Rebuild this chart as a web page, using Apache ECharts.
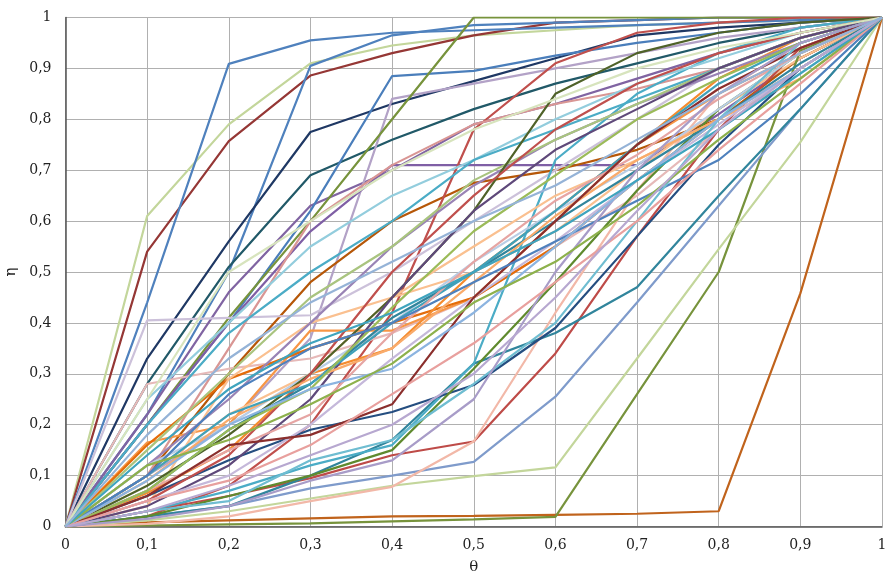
<!DOCTYPE html>
<html><head><meta charset="utf-8">
<script src="https://cdn.jsdelivr.net/npm/echarts@6/dist/echarts.min.js"></script>
<style>html,body{margin:0;padding:0;background:#fff}#c{width:885px;height:573px}</style>
</head><body><div id="c"></div>
<script>
// θ positions
const theta = [0, 0.1, 0.2, 0.3, 0.4, 0.5, 0.6, 0.7, 0.8, 0.9, 1];
const xTicks = ["0","0,1","0,2","0,3","0,4","0,5","0,6","0,7","0,8","0,9","1"];
const yTicks = ["0","0,1","0,2","0,3","0,4","0,5","0,6","0,7","0,8","0,9","1"];

// η values of each curve at the θ positions
const s01 = [0,.61,.79,.91,.945,.965,.975,.985,.99,.995,1];
const s02 = [0,.54,.757,.886,.93,.965,.99,.995,1,1,1];
const s03 = [0,.44,.909,.955,.97,.975,.98,.985,.99,.995,1];
const s04 = [0,.22,.50,.905,.965,.985,.99,.995,1,1,1];
const s05 = [0,.33,.56,.775,.83,.875,.92,.965,.98,.99,1];
const s06 = [0,.28,.51,.69,.76,.82,.87,.91,.95,.98,1];
const s07 = [0,.22,.46,.63,.70,.79,.83,.88,.93,.97,1];
const s08 = [0,.20,.40,.62,.885,.895,.925,.95,.97,.99,1];
const s09 = [0,.10,.20,.37,.84,.87,.90,.93,.96,.98,1];
const s10 = [0,.20,.41,.60,.80,1,1,1,1,1,1];
const s11 = [0,.20,.40,.58,.71,.71,.71,.71,.81,.92,1];
const s12 = [0,.10,.30,.48,.60,.675,.70,.74,.80,.92,1];
const s13 = [0,.02,.08,.20,.42,.78,.91,.97,.99,1,1];
const s14 = [0,.10,.35,.60,.71,.79,.83,.86,.90,.96,1];
const s15 = [0,.405,.41,.415,.50,.60,.70,.80,.90,.96,1];
const s16 = [0,.28,.31,.33,.38,.45,.55,.65,.78,.90,1];
const s17 = [0,.165,.20,.385,.385,.45,.60,.75,.85,.93,1];
const s18 = [0,.16,.29,.35,.40,.45,.55,.68,.80,.90,1];
const s19 = [0,.04,.29,.40,.45,.50,.58,.70,.82,.92,1];
const s20 = [0,.066,.15,.30,.35,.50,.62,.75,.88,.96,1];
const s21 = [0,.008,.012,.016,.02,.021,.023,.025,.03,.458,1];
const s22 = [0,.002,.004,.006,.01,.014,.019,.26,.50,.935,1];
const s23 = [0,.012,.03,.055,.08,.099,.116,.33,.545,.755,1];
const s24 = [0,.02,.04,.075,.10,.127,.255,.44,.63,.82,1];
const s25 = [0,.03,.06,.095,.14,.167,.34,.57,.78,.94,1];
const s26 = [0,.005,.02,.05,.078,.167,.42,.66,.85,.95,1];
const s27 = [0,.02,.04,.10,.17,.32,.38,.47,.65,.82,1];
const s28 = [0,.03,.07,.12,.16,.32,.72,.85,.93,.98,1];
const s29 = [0,.06,.13,.19,.225,.278,.39,.57,.75,.90,1];
const s30 = [0,.02,.06,.10,.15,.31,.48,.66,.82,.93,1];
const s31 = [0,.25,.40,.55,.65,.72,.80,.87,.92,.97,1];
const s32 = [0,.20,.38,.50,.60,.72,.78,.84,.90,.96,1];
const s33 = [0,.12,.25,.40,.55,.67,.76,.83,.89,.95,1];
const s34 = [0,.15,.30,.45,.55,.68,.76,.83,.90,.96,1];
const s35 = [0,.10,.22,.30,.45,.55,.65,.72,.80,.90,1];
const s36 = [0,.12,.20,.30,.40,.52,.62,.71,.82,.93,1];
const s37 = [0,.08,.18,.30,.45,.62,.85,.93,.97,.99,1];
const s38 = [0,.05,.14,.30,.50,.65,.78,.87,.93,.97,1];
const s39 = [0,.04,.12,.25,.45,.62,.74,.82,.90,.96,1];
const s40 = [0,.07,.19,.28,.41,.50,.60,.70,.80,.91,1];
const s41 = [0,.09,.21,.29,.35,.48,.61,.72,.80,.88,1];
const s42 = [0,.10,.22,.28,.40,.50,.62,.75,.87,.95,1];
const s43 = [0,.07,.15,.22,.38,.52,.64,.73,.84,.93,1];
const s44 = [0,.05,.10,.20,.33,.45,.56,.68,.79,.90,1];
const s45 = [0,.07,.19,.27,.43,.58,.69,.80,.88,.95,1];
const s46 = [0,.06,.16,.18,.24,.45,.60,.75,.86,.94,1];
const s47 = [0,.10,.26,.35,.40,.48,.56,.64,.72,.85,1];
const s48 = [0,.03,.05,.13,.17,.28,.40,.60,.80,.95,1];
const s49 = [0,.015,.04,.09,.13,.25,.50,.70,.85,.95,1];
const s50 = [0,.25,.50,.60,.70,.78,.84,.90,.94,.97,1];
const s51 = [0,.09,.20,.27,.31,.42,.55,.68,.80,.90,1];
const s52 = [0,.12,.17,.24,.32,.44,.52,.63,.76,.88,1];
const s53 = [0,.05,.09,.16,.26,.36,.48,.60,.74,.87,1];
const s54 = [0,.14,.27,.36,.42,.50,.58,.68,.78,.89,1];
const s55 = [0,.03,.08,.14,.20,.30,.45,.62,.78,.90,1];
const s56 = [0,.18,.33,.44,.52,.60,.67,.76,.85,.93,1];

const curves = [s01,s02,s03,s04,s05,s06,s07,s08,s09,s10,s11,s12,s13,s14,s15,s16,s17,s18,s19,s20,
  s21,s22,s23,s24,s25,s26,s27,s28,s29,s30,s31,s32,s33,s34,s35,s36,s37,s38,s39,s40,
  s41,s42,s43,s44,s45,s46,s47,s48,s49,s50,s51,s52,s53,s54,s55,s56];

const colors = ["#C3D69B","#953735","#4F81BD","#4F81BD","#1F3864","#215968","#8064A2","#4A7EBB","#B3A2C7","#77933C",
  "#7F5FA5","#B65708","#C0504D","#D99694","#CCC1DA","#E6B9B8","#F79646","#E46C0A","#FAC090","#F58C2E",
  "#C0631C","#77933C","#C3D69B","#7F9BCB","#BE4B48","#F2B8A8","#31859C","#4BACC6","#254E80","#5F8A2E",
  "#93CDDD","#4BACC6","#9983B5","#A9C47F","#FAC090","#B9CDE5","#4F6228","#C0504D","#5F497A","#31859C",
  "#F9AB6B","#40A1BA","#E6A5A3","#C5B8DA","#9BBB59","#8B2F2D","#4F81BD","#6FBDD1","#A89CC8","#D7E4BD",
  "#8CB4E0","#8DB14C","#E8A09E","#3FA4BE","#B7A8D0","#95B3D7"];

const fontFam = "'DejaVu Serif',serif";
const chart = echarts.init(document.getElementById('c'), null, {renderer:'canvas'});
chart.setOption({
  animation:false,
  backgroundColor:'#fff',
  grid:{left:65.5, right:3, top:17.5, bottom:46.5, containLabel:false, outerBoundsMode:'none'},
  xAxis:{type:'value', min:0, max:1, interval:0.1,
    name:'θ', nameLocation:'middle', nameGap:33,
    nameTextStyle:{fontFamily:fontFam, fontSize:15, color:'#222'},
    axisLine:{lineStyle:{color:'#555', width:1.5}},
    axisTick:{show:false},
    axisLabel:{margin:12, fontFamily:fontFam, fontSize:14, color:'#222',
      formatter:v=>xTicks[Math.round(v*10)]},
    splitLine:{lineStyle:{color:'#b0b0b0', width:1}}},
  yAxis:{type:'value', min:0, max:1, interval:0.1,
    name:'η', nameLocation:'middle', nameGap:47, nameRotate:90,
    nameTextStyle:{fontFamily:fontFam, fontSize:15, color:'#222'},
    axisLine:{show:true, lineStyle:{color:'#555', width:1.5}},
    axisTick:{show:false},
    axisLabel:{margin:14, fontFamily:fontFam, fontSize:14, color:'#222',
      formatter:v=>yTicks[Math.round(v*10)]},
    splitLine:{lineStyle:{color:'#b0b0b0', width:1}}},
  series: curves.map((c,i)=>({
    type:'line', data:c.map((v,j)=>[theta[j], v]), symbol:'none',
    lineStyle:{color:colors[i], width:2.2}, itemStyle:{color:colors[i]}, z:2
  }))
});
</script></body></html>
